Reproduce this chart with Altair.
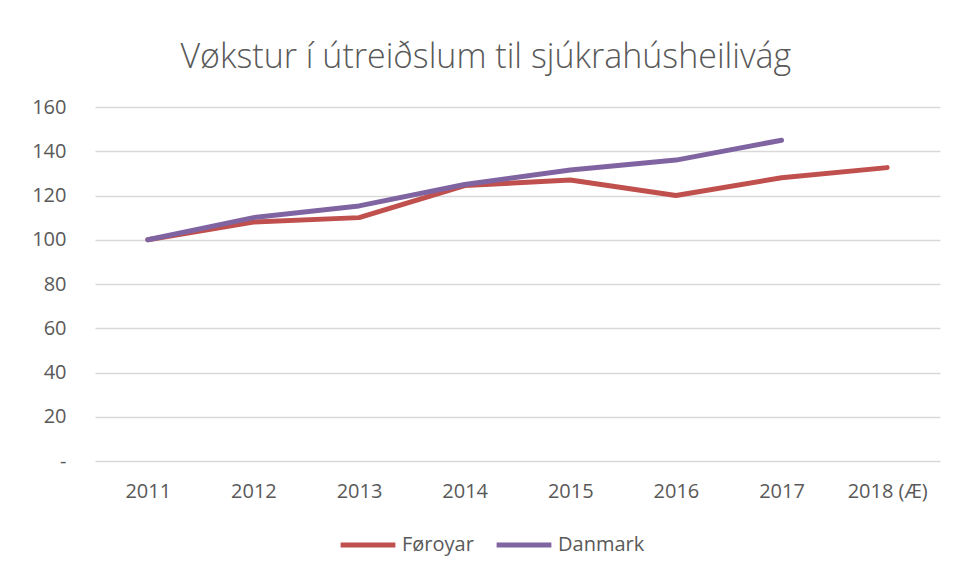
import altair as alt
import pandas as pd

years = ["2011", "2012", "2013", "2014", "2015", "2016", "2017", "2018 (Æ)"]
foroyar = [100, 108, 110, 124.5, 127, 120, 128, 132.6]
danmark = [100, 110, 115.3, 125, 131.5, 136, 145, None]
series = ["Føroyar", "Danmark"]
colors = ["#C0504D", "#8064A2"]
y_ticks = [0, 20, 40, 60, 80, 100, 120, 140, 160]

rows = []
for name, vals in zip(series, [foroyar, danmark]):
    for yr, v in zip(years, vals):
        if v is not None:
            rows.append({"Ár": yr, "Virði": v, "Land": name})
df = pd.DataFrame(rows)

FONT = "Open Sans"
GRAY = "#595959"

chart = (
    alt.Chart(df)
    .mark_line(strokeWidth=5, strokeCap="round", strokeJoin="round")
    .encode(
        x=alt.X(
            "Ár:O",
            sort=years,
            title=None,
            scale=alt.Scale(type="point", padding=0.5),
            axis=alt.Axis(
                labelAngle=0,
                domain=False,
                ticks=False,
                grid=False,
                labelPadding=20,
                labelFontSize=20,
                labelColor=GRAY,
                labelFont=FONT,
            ),
        ),
        y=alt.Y(
            "Virði:Q",
            title=None,
            scale=alt.Scale(domain=[0, 160], nice=False),
            axis=alt.Axis(
                values=y_ticks,
                domain=False,
                ticks=False,
                gridColor="#D9D9D9",
                gridWidth=1.3,
                labelPadding=29,
                labelFontSize=20,
                labelColor=GRAY,
                labelFont=FONT,
                labelExpr="datum.value == 0 ? '-' : datum.label",
            ),
        ),
        color=alt.Color(
            "Land:N",
            scale=alt.Scale(domain=series, range=colors),
            sort=series,
            legend=alt.Legend(
                title=None,
                orient="none",
                direction="horizontal",
                legendX=243,
                legendY=408,
                symbolType="stroke",
                symbolSize=3000,
                symbolStrokeWidth=5,
                labelFontSize=20,
                labelColor=GRAY,
                labelFont=FONT,
                labelOffset=4,
                columnPadding=12,
            ),
        ),
    )
    .properties(
        width=845,
        height=354,
        background="white",
        autosize=alt.AutoSizeParams(type="none"),
        padding={"left": 87, "top": 99, "right": 8, "bottom": 110},
        title=alt.TitleParams(
            "Vøkstur í útreiðslum til sjúkrahúsheilivág",
            anchor="middle",
            frame="bounds",
            offset=22,
            fontSize=34,
            font=FONT,
            fontWeight=300,
            color=GRAY,
        ),
    )
    .configure_view(strokeWidth=0, stroke="transparent")
)

chart.save("out.html", embed_options={"renderer": "svg", "actions": False})
